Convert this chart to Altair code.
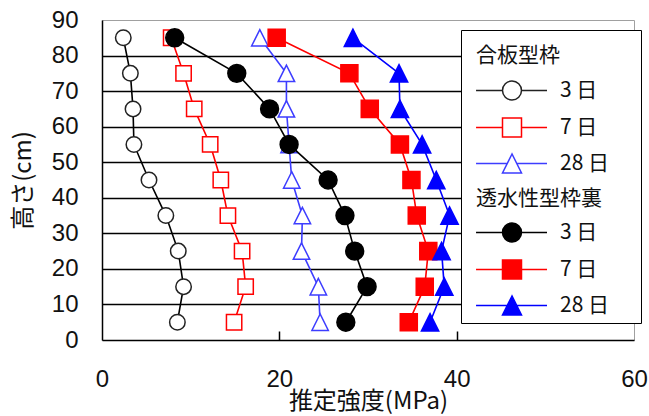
import altair as alt
import pandas as pd

# ---------------- data ----------------
heights = [85, 75, 65, 55, 45, 35, 25, 15, 5]

plywood_3 = [2.4, 3.2, 3.5, 3.6, 5.3, 7.2, 8.6, 9.2, 8.5]
plywood_7 = [7.8, 9.2, 10.4, 12.2, 13.4, 14.2, 15.8, 16.2, 14.9]
plywood_28 = [17.8, 20.8, 20.8, 21.1, 21.4, 22.6, 22.5, 24.4, 24.6]

perm_3 = [8.2, 15.2, 18.9, 21.1, 25.5, 27.4, 28.5, 29.9, 27.5]
perm_7 = [19.7, 27.9, 30.2, 33.6, 34.9, 35.5, 36.8, 36.4, 34.6]
perm_28 = [28.3, 33.5, 33.6, 36.1, 37.7, 39.2, 38.3, 38.6, 37.0]

ages = ["3 日", "7 日", "28 日"]
group_names = ["合板型枠", "透水性型枠裏"]
x_ticks = [0, 20, 40, 60]
y_ticks = [0, 10, 20, 30, 40, 50, 60, 70, 80, 90]
x_title = "推定強度(MPa)"
y_title = "高さ(cm)"

series_values = [plywood_3, plywood_7, plywood_28, perm_3, perm_7, perm_28]
series_group = [0, 0, 0, 1, 1, 1]
series_age = [0, 1, 2, 0, 1, 2]

# ---------------- styles ----------------
JP = "Noto Sans CJK JP"
NUM = "Liberation Sans"
TXT = "#111111"
TRI = "M0,-1L-1,1L1,1Z"
line_colors = ["#000000", "#ff0000", "#3d3dff", "#000000", "#ff0000", "#0000ff"]
mark_shapes = ["circle", "square", TRI, "circle", "square", TRI]
mark_sizes = [240, 235, 270, 320, 290, 300]
mark_fills = ["white", "white", "white", "#000000", "#ff0000", "#0000ff"]
mark_strokes = ["#222222", "#ff0000", "#3d3dff", "#000000", "#ff0000", "#0000ff"]

# legend symbols: line + marker, unit = sqrt(symbolSize)/2 px
LEG_SIZE = 361
leg_circle = "M-1.1,0H1.684M3.684,0H6.37M1.684,0A1,1 0 1,0 3.684,0A1,1 0 1,0 1.684,0Z"
leg_square = "M-1.1,0H1.684M3.684,0H6.37M1.684,-1H3.684V1H1.684Z"
leg_tri = "M-1.1,0H2.184M3.184,0H6.37M2.684,-1L1.684,1L3.684,1Z"
BLANK = "M0,0"

# ---------------- table ----------------
rows = []
for i, vals in enumerate(series_values):
    for h, v in zip(heights, vals):
        rows.append({"strength": v, "height": h, "sid": i,
                     "group": group_names[series_group[i]],
                     "age": ages[series_age[i]]})
df = pd.DataFrame(rows)

x_axis = alt.Axis(values=x_ticks, grid=False, ticks=True,
                  tickSize={"expr": "-9"}, tickWidth=1.5, tickColor="black",
                  tickOpacity={"condition": {"test": "datum.value == 20 || datum.value == 40", "value": 1}, "value": 0},
                  domainColor="black", domainWidth=1.5,
                  labelFont=NUM, labelFontSize=24, labelColor=TXT, labelPadding=36,
                  labelFlush=False,
                  titleFont=JP, titleFontSize=24, titleFontWeight="normal", titleColor=TXT,
                  titlePadding=-2)
y_axis = alt.Axis(values=y_ticks, grid=True, gridColor="black", gridWidth=1.5,
                  gridOpacity={"condition": {"test": "datum.value == 0 || datum.value == 90", "value": 0}, "value": 1},
                  ticks=False, domainColor="black", domainWidth=1.5,
                  labelFont=NUM, labelFontSize=24, labelColor=TXT, labelPadding=24,
                  labelFlush=False,
                  titleFont=JP, titleFontSize=24, titleFontWeight="normal", titleColor=TXT,
                  titlePadding=16)

X = alt.X("strength:Q", scale=alt.Scale(domain=[0, 60], nice=False, zero=False), axis=x_axis, title=x_title)
Y = alt.Y("height:Q", scale=alt.Scale(domain=[0, 90], nice=False, zero=False), axis=y_axis, title=y_title)

layers = []
for i in range(len(series_values)):
    d = df[df["sid"] == i]
    base = alt.Chart(d)
    layers.append(base.mark_line(color=line_colors[i], strokeWidth=1.6).encode(
        x=X, y=Y, order=alt.Order("height:Q")))
    layers.append(base.mark_point(shape=mark_shapes[i], size=mark_sizes[i], filled=True,
                                  fill=mark_fills[i], stroke=mark_strokes[i],
                                  strokeWidth=1.5, opacity=1).encode(x=X, y=Y))


def legend(title, ly, tpad, label_expr=None):
    kw = dict(title=title, orient="none", legendX=359, legendY=ly,
              direction="vertical", padding=15,
              titleFont=JP, titleFontSize=21, titleFontWeight="normal",
              titleColor=TXT, titlePadding=tpad,
              labelFont=JP, labelFontSize=21, labelColor=TXT,
              labelOffset=63, labelLimit=300,
              symbolSize=LEG_SIZE, symbolStrokeWidth=1.5, symbolOpacity=1,
              rowPadding=11)
    if label_expr:
        kw["labelExpr"] = label_expr
    return alt.Legend(**kw)


# legend A (open markers) with blank rows that reserve room for legend B;
# an invisible trailing glyph on the last label widens the frame like the reference
domA = ages + [" ", "  ", "   ", "    "]
legA = legend(group_names[0], 10, 14,
              "datum.label == '28 日' ? '28 日\u200a\u2800' : datum.label").to_dict()
legA.update({"fillColor": "white", "strokeColor": "black"})
dA = df[df["group"] == group_names[0]]
layers.append(alt.Chart(dA).mark_point(opacity=0, filled=True).encode(
    x=X, y=Y,
    shape=alt.Shape("age:N", scale=alt.Scale(domain=domA, range=[leg_circle, leg_square, leg_tri, BLANK, BLANK, BLANK, BLANK]), legend=legA),
    fill=alt.Fill("age:N", scale=alt.Scale(domain=domA, range=["white"] * 7), legend=legA),
    stroke=alt.Stroke("age:N", scale=alt.Scale(domain=domA, range=["#222222", "#ff0000", "#3d3dff", "white", "white", "white", "white"]), legend=legA),
))

# legend B (filled markers), no frame, drawn inside legend A's frame
domB = ages
legB = legend(group_names[1], 153, 13)
dB = df[df["group"] == group_names[1]]
layers.append(alt.Chart(dB).mark_point(opacity=0, filled=True).encode(
    x=X, y=Y,
    shape=alt.Shape("age:N", scale=alt.Scale(domain=domB, range=[leg_circle, leg_square, leg_tri]), legend=legB),
    fill=alt.Fill("age:N", scale=alt.Scale(domain=domB, range=["#000000", "#ff0000", "#0000ff"]), legend=legB),
    stroke=alt.Stroke("age:N", scale=alt.Scale(domain=domB, range=["#000000", "#ff0000", "#0000ff"]), legend=legB),
))

chart = alt.layer(*layers).resolve_scale(
    shape="independent", fill="independent", stroke="independent"
).resolve_legend(
    shape="independent", fill="independent", stroke="independent"
).properties(
    width=532, height=320,
    padding={"left": 102, "top": 20, "right": 15, "bottom": 76},
    autosize=alt.AutoSizeParams(type="none"),
    background="white",
).configure_view(stroke="#a0a0a0", strokeWidth=1)

chart.save("out.html", embed_options={"renderer": "svg", "actions": False})
